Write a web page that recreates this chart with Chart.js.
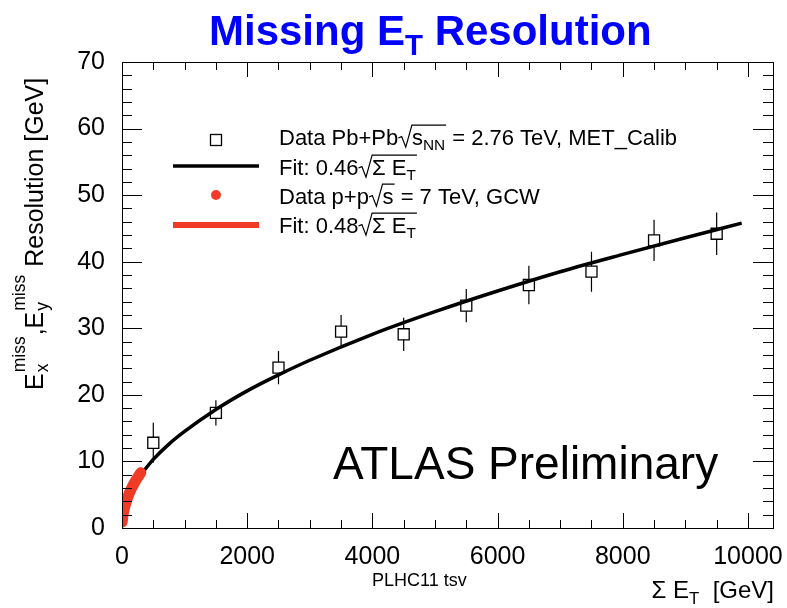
<!DOCTYPE html>
<html>
<head>
<meta charset="utf-8">
<script src="https://cdn.jsdelivr.net/npm/chart.js@4.4.1/dist/chart.umd.min.js"></script>
<style>
  html, body { margin: 0; padding: 0; background: #fff; }
</style>
</head>
<body>
<canvas id="c" width="787" height="608"></canvas>
<script>
// --- values ---
const pbX   = [500, 1500, 2500, 3500, 4500, 5500, 6500, 7500, 8500, 9500];
const pbY   = [12.8, 17.3, 24.1, 29.5, 29.1, 33.4, 36.5, 38.5, 43.2, 44.2];
const pbErr = [3.0, 1.9, 2.5, 2.5, 2.5, 2.5, 2.9, 3.0, 3.1, 3.2];

const fitPbX = [300, 500, 750, 1000, 1500, 2000, 2500, 3000, 4000, 5000, 6000, 7000, 8000, 9000, 9900];
const fitPbY = [8.0, 10.3, 12.6, 14.5, 17.8, 20.6, 23.0, 25.2, 29.1, 32.5, 35.6, 38.5, 41.1, 43.6, 45.8];

const ppX = [8, 20, 35, 55, 80, 110, 140, 175, 210, 250, 290];
const ppY = [1.4, 2.1, 2.8, 3.5, 4.3, 5.0, 5.7, 6.3, 7.0, 7.6, 8.2];

const fitPpX = [3, 10, 25, 50, 80, 120, 160, 200, 250, 300];
const fitPpY = [0.9, 1.5, 2.4, 3.4, 4.3, 5.3, 6.1, 6.8, 7.6, 8.3];

const xTicks = [0, 2000, 4000, 6000, 8000, 10000];
const yTicks = [0, 10, 20, 30, 40, 50, 60, 70];

const FONT = '"Liberation Sans", Arial, Helvetica, sans-serif';
const RED = '#f03c26';

const pts = (xs, ys) => xs.map((x, i) => ({ x: x, y: ys[i] }));

// draws a run of text pieces (plain / sub / sup / stacked / sqrt), returns end x
function rich(ctx, parts, x, y, size, bold, draw) {
    let cx = x;
    const setFont = s => { ctx.font = (bold ? 'bold ' : '') + s + 'px ' + FONT; };
    parts.forEach(p => {
        if (p.sqrt) {
            const rw = size * 0.62;
            const top = y - size * 0.9;
            const inner = cx + rw;
            const end = rich(ctx, p.sqrt, inner, y, size, bold, draw);
            if (draw) {
                ctx.beginPath();
                ctx.moveTo(cx, y - size * 0.32);
                ctx.lineTo(cx + rw * 0.25, y - size * 0.38);
                ctx.lineTo(cx + rw * 0.55, y + size * 0.1);
                ctx.lineTo(inner, top);
                ctx.lineTo(end + 1, top);
                ctx.lineWidth = 1.2;
                ctx.strokeStyle = '#000';
                ctx.stroke();
            }
            cx = end + 1;
            return;
        }
        if (p.stack) {
            const s = size * 0.7;
            setFont(s);
            const w = Math.max(ctx.measureText(p.stack[0]).width, ctx.measureText(p.stack[1]).width);
            if (draw) {
                ctx.fillText(p.stack[0], cx + 1, y - size * 0.72);
                ctx.fillText(p.stack[1], cx + 1, y + size * 0.2);
            }
            cx += w + 2;
            return;
        }
        const s = (p.sub || p.sup) ? size * 0.7 : size;
        const dy = p.sub ? size * 0.24 : (p.sup ? -size * 0.72 : 0);
        setFont(s);
        if (draw) ctx.fillText(p.t, cx, y + dy);
        cx += ctx.measureText(p.t).width;
    });
    return cx;
}

const rootStyle = {
    id: 'rootStyle',
    beforeDatasetsDraw(chart) {
        // error bars, kept outside the open squares
        const ctx = chart.ctx, xs = chart.scales.x, ys = chart.scales.y;
        ctx.save();
        ctx.strokeStyle = '#000';
        ctx.lineWidth = 1.2;
        pbX.forEach((v, i) => {
            const px = xs.getPixelForValue(v);
            const py = ys.getPixelForValue(pbY[i]);
            const hi = ys.getPixelForValue(pbY[i] + pbErr[i]);
            const lo = ys.getPixelForValue(pbY[i] - pbErr[i]);
            ctx.beginPath();
            ctx.moveTo(px, hi); ctx.lineTo(px, py - 5.5);
            ctx.moveTo(px, py + 5.5); ctx.lineTo(px, lo);
            ctx.stroke();
        });
        ctx.restore();
    },
    afterDraw(chart) {
        const ctx = chart.ctx, a = chart.chartArea;
        const xs = chart.scales.x, ys = chart.scales.y;
        ctx.save();
        ctx.strokeStyle = '#000';
        ctx.lineWidth = 1;
        ctx.strokeRect(a.left + 0.5, a.top + 0.5, a.right - a.left, a.bottom - a.top);

        // inward ticks
        ctx.beginPath();
        for (let v = 0; v <= xs.max; v += 500) {
            const px = Math.round(xs.getPixelForValue(v)) + 0.5;
            const len = v % 2000 === 0 ? 15 : 8;
            ctx.moveTo(px, a.bottom); ctx.lineTo(px, a.bottom - len);
            ctx.moveTo(px, a.top); ctx.lineTo(px, a.top + len);
        }
        for (let v = 0; v <= ys.max; v += 2) {
            const py = Math.round(ys.getPixelForValue(v)) + 0.5;
            const len = v % 10 === 0 ? 20 : 10;
            ctx.moveTo(a.left, py); ctx.lineTo(a.left + len, py);
            ctx.moveTo(a.right, py); ctx.lineTo(a.right - len, py);
        }
        ctx.stroke();

        ctx.textBaseline = 'alphabetic';
        ctx.textAlign = 'left';

        // title
        ctx.fillStyle = '#0000ff';
        rich(ctx, [{ t: 'Missing E' }, { t: 'T', sub: true }, { t: ' Resolution' }], 209, 45, 42, true, true);

        // legend
        ctx.fillStyle = '#000';
        const tx = 279, fs = 22;
        ctx.lineWidth = 1.3;
        ctx.strokeRect(210.5, 134.5, 11, 11);
        rich(ctx, [{ t: 'Data Pb+Pb' }, { sqrt: [{ t: 's' }, { t: 'NN', sub: true }] }, { t: ' = 2.76 TeV, MET_Calib' }], tx, 145, fs, false, true);

        ctx.beginPath();
        ctx.moveTo(173, 166); ctx.lineTo(259, 166);
        ctx.lineWidth = 3.5; ctx.strokeStyle = '#000'; ctx.stroke();
        rich(ctx, [{ t: 'Fit: 0.46' }, { sqrt: [{ t: 'Σ E' }, { t: 'T', sub: true }] }], tx, 175, fs, false, true);

        ctx.beginPath();
        ctx.arc(216, 195, 5, 0, Math.PI * 2);
        ctx.fillStyle = RED; ctx.fill();
        ctx.fillStyle = '#000';
        rich(ctx, [{ t: 'Data p+p' }, { sqrt: [{ t: 's' }] }, { t: ' = 7 TeV, GCW' }], tx, 204, fs, false, true);

        ctx.beginPath();
        ctx.moveTo(173, 225); ctx.lineTo(259, 225);
        ctx.lineWidth = 6; ctx.strokeStyle = RED; ctx.stroke();
        rich(ctx, [{ t: 'Fit: 0.48' }, { sqrt: [{ t: 'Σ E' }, { t: 'T', sub: true }] }], tx, 233, fs, false, true);

        // labels
        ctx.fillStyle = '#000';
        ctx.font = '46px ' + FONT;
        ctx.fillText('ATLAS Preliminary', 333, 479);

        ctx.font = '18px ' + FONT;
        ctx.fillText('PLHC11 tsv', 372, 586);

        const xt = [{ t: 'Σ E' }, { t: 'T', sub: true }, { t: '  [GeV]' }];
        const w = rich(ctx, xt, 0, 0, 24, false, false);
        rich(ctx, xt, 774 - w, 598, 24, false, true);

        ctx.save();
        ctx.translate(43, 390);
        ctx.rotate(-Math.PI / 2);
        rich(ctx, [{ t: 'E' }, { stack: ['miss', 'x'] }, { t: ',E' }, { stack: ['miss', 'y'] }, { t: ' Resolution [GeV]' }], 0, 0, 25, false, true);
        ctx.restore();

        ctx.restore();
    }
};

new Chart(document.getElementById('c'), {
    type: 'scatter',
    data: {
        datasets: [
            {
                label: 'Fit: 0.48 sqrt(Sum ET)',
                data: pts(fitPpX, fitPpY),
                showLine: true,
                borderColor: RED,
                borderWidth: 11,
                borderCapStyle: 'round',
                cubicInterpolationMode: 'monotone',
                pointRadius: 0
            },
            {
                label: 'Data p+p 7 TeV, GCW',
                data: pts(ppX, ppY),
                backgroundColor: RED,
                borderWidth: 0,
                pointRadius: 5
            },
            {
                label: 'Fit: 0.46 sqrt(Sum ET)',
                data: pts(fitPbX, fitPbY),
                showLine: true,
                borderColor: '#000',
                borderWidth: 3.5,
                cubicInterpolationMode: 'monotone',
                pointRadius: 0
            },
            {
                label: 'Data Pb+Pb 2.76 TeV, MET_Calib',
                data: pts(pbX, pbY),
                pointStyle: 'rect',
                pointRadius: 7.8,
                backgroundColor: 'rgba(0,0,0,0)',
                borderColor: '#000',
                borderWidth: 1.3
            }
        ]
    },
    options: {
        responsive: false,
        animation: false,
        events: [],
        layout: { padding: { top: 62, right: 14, left: 0, bottom: 0 } },
        plugins: { legend: { display: false }, tooltip: { enabled: false } },
        scales: {
            x: {
                type: 'linear',
                min: 0,
                max: 10400,
                grid: { display: false },
                border: { display: false },
                ticks: { color: '#000', font: { family: FONT, size: 25 }, padding: 6, maxRotation: 0, callback: v => String(v) },
                afterBuildTicks: s => { s.ticks = xTicks.map(v => ({ value: v })); },
                afterFit: s => { s.height = 80; s.paddingRight = 0; s.paddingLeft = 0; }
            },
            y: {
                min: 0,
                max: 70,
                grid: { display: false },
                border: { display: false },
                ticks: { color: '#000', font: { family: FONT, size: 25 }, padding: 9 },
                afterBuildTicks: s => { s.ticks = yTicks.map(v => ({ value: v })); },
                afterFit: s => { s.width = 122; s.paddingTop = 0; s.paddingBottom = 0; }
            }
        }
    },
    plugins: [rootStyle]
});
</script>
</body>
</html>
